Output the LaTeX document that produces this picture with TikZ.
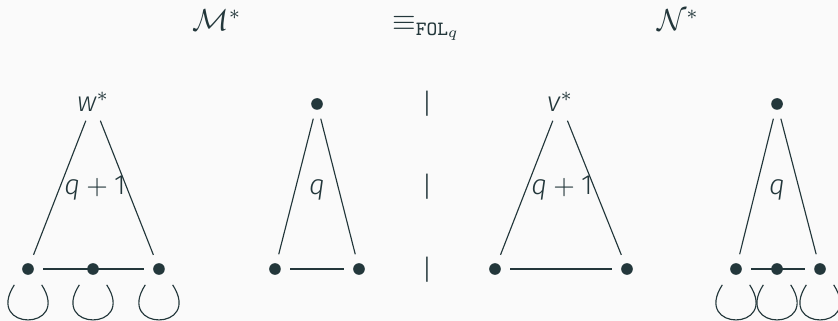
\documentclass[tikz,border=0pt]{standalone}
\usepackage{amsmath,amssymb}
\usepackage{fontspec}
\setmainfont{Fira Sans Light}[ItalicFont={Fira Sans Light Italic}]
\usetikzlibrary{calc}
\definecolor{mteal}{HTML}{23373B}
\definecolor{mpaper}{HTML}{FAFAFA}
\tikzset{
  dot/.style={circle,fill=mteal,inner sep=0pt,minimum size=4.6pt},
  lbl/.style={font=\fontsize{11}{13}\selectfont,text=mteal,inner sep=0pt},
  hdr/.style={font=\fontsize{12}{14}\selectfont,text=mteal,inner sep=0pt,anchor=base},
  link/.style={draw=mteal,line width=0.45pt,shorten <=3.5pt,shorten >=3.5pt},
  lp/.style={draw=mteal,line width=0.45pt},
}
\begin{document}
\begin{tikzpicture}
  \fill[mpaper] (0,0) rectangle (11.639,4.458);
  \useasboundingbox (0,0) rectangle (11.639,4.458);
  % titles
  \node[hdr] (mstar) at (3.014,4.03) {$\mathcal{M}^*$};
  \node[hdr] (eqv) at (5.917,4.03) {$\equiv_{\texttt{FOL}_q}$};
  \node[hdr] (nstar) at (9.417,4.03) {$\mathcal{N}^*$};
  % M*: w* with depth q+1
  \node[lbl,anchor=base] (w) at (1.292,2.903) {\textit{w}$^*$};
  \node[dot] (a1) at (0.389,0.722) {};
  \node[dot] (a2) at (1.292,0.722) {};
  \node[dot] (a3) at (2.208,0.722) {};
  \draw[link] (w) -- (a1); \draw[link] (w) -- (a3); \draw[link] (a1) -- (a3);
  \node[lbl,anchor=base] (qa) at (1.319,1.75) {\textit{q}${}+{}$1};
  % M*: second part, depth q
  \node[dot] (t2) at (4.403,3.014) {};
  \node[dot] (b1) at (3.819,0.722) {};
  \node[dot] (b2) at (4.986,0.722) {};
  \draw[link] (t2) -- (b1); \draw[link] (t2) -- (b2); \draw[link] (b1) -- (b2);
  \node[lbl,anchor=base] (qb) at (4.403,1.75) {\textit{q}};
  % separator
  \foreach \y [count=\i] in {3.014,1.861,0.708} { \node[lbl] (bar\i) at (5.931,\y) {|}; }
  % N*: v* with depth q+1
  \node[lbl,anchor=base] (v) at (7.778,2.903) {\textit{v}$^*$};
  \node[dot] (d1) at (6.875,0.722) {};
  \node[dot] (d2) at (8.708,0.722) {};
  \draw[link] (v) -- (d1); \draw[link] (v) -- (d2); \draw[link] (d1) -- (d2);
  \node[lbl,anchor=base] (qd) at (7.806,1.75) {\textit{q}${}+{}$1};
  % N*: second part, depth q
  \node[dot] (t4) at (10.792,3.014) {};
  \node[dot] (e1) at (10.222,0.722) {};
  \node[dot] (e2) at (10.792,0.722) {};
  \node[dot] (e3) at (11.389,0.722) {};
  \draw[link] (t4) -- (e1); \draw[link] (t4) -- (e3); \draw[link] (e1) -- (e3);
  \node[lbl,anchor=base] (qe) at (10.792,1.75) {\textit{q}};
  % self loops on the leaves
  \foreach \d in {a1,a2,a3,e1,e2,e3}
    \draw[lp] ($(\d)+(-0.19,-0.22)$) .. controls +(-0.42,-0.65) and +(0.42,-0.65) .. ($(\d)+(0.19,-0.22)$);
\end{tikzpicture}
\end{document}
